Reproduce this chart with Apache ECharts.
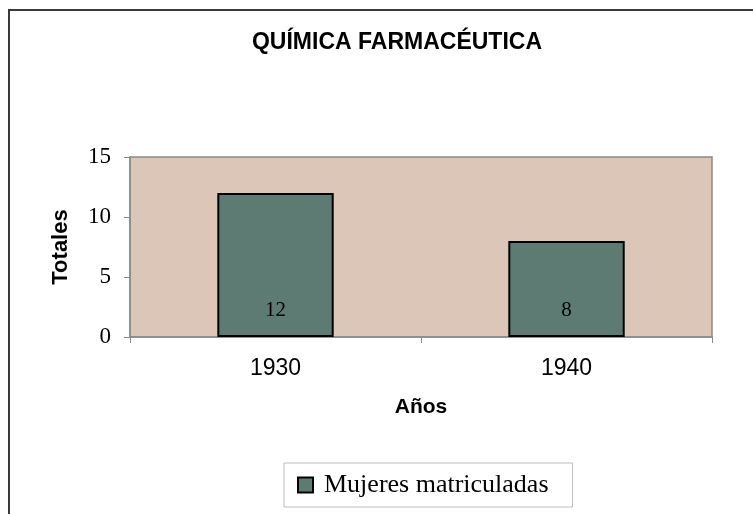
<!DOCTYPE html>
<html>
<head>
<meta charset="utf-8">
<script src="https://cdn.jsdelivr.net/npm/echarts@6/dist/echarts.min.js"></script>
<style>
  html, body { margin: 0; padding: 0; background: #fff; }
  #frame { position: absolute; left: 8px; top: 9px; width: 760px; height: 520px;
           border-left: 2px solid #3a3a3a; border-top: 2px solid #3a3a3a; }
  #chart { position: absolute; left: 0; top: 0; width: 753px; height: 514px; }
</style>
</head>
<body>
<div id="frame"></div>
<div id="chart"></div>
<script>
// datos del gráfico
const years = ['1930', '1940'];
const mujeres = [12, 8];
const yTicks = [0, 5, 10, 15];

const chart = echarts.init(document.getElementById('chart'));
chart.setOption({
    animation: false,
    title: {
        text: 'QUÍMICA FARMACÉUTICA',
        left: 392,
        top: 26,
        textAlign: 'center',
        textStyle: {fontFamily: 'Liberation Sans, Arial', fontWeight: 'bold', fontSize: 23, color: '#000'}
    },
    grid: {
        left: 130, right: 41, top: 157, bottom: 177,
        show: true,
        backgroundColor: '#dcc6b8',
        borderColor: '#8a8a8a',
        borderWidth: 1.5
    },
    legend: {
        data: ['Mujeres matriculadas'],
        left: 284,
        top: 463,
        padding: [9, 24, 9, 13],
        borderColor: '#bdbdbd',
        borderWidth: 1,
        itemWidth: 15,
        itemHeight: 15,
        icon: 'rect',
        textStyle: {fontFamily: 'Liberation Serif, Times New Roman', fontSize: 26, color: '#000', padding: [0, 0, 0, 6]}
    },
    xAxis: {
        type: 'category',
        data: years,
        name: 'Años',
        nameLocation: 'middle',
        nameGap: 60,
        nameTextStyle: {fontFamily: 'Liberation Sans, Arial', fontWeight: 'bold', fontSize: 21, color: '#000'},
        axisLine: {lineStyle: {color: '#8a8a8a', width: 1.5}},
        axisTick: {show: true, alignWithLabel: false, length: 6, lineStyle: {color: '#8a8a8a'}},
        axisLabel: {margin: 20, fontFamily: 'Liberation Sans, Arial', fontSize: 23, color: '#000'}
    },
    yAxis: {
        type: 'value',
        min: yTicks[0],
        max: yTicks[yTicks.length - 1],
        interval: 5,
        name: 'Totales',
        nameLocation: 'middle',
        nameGap: 58,
        nameTextStyle: {fontFamily: 'Liberation Sans, Arial', fontWeight: 'bold', fontSize: 22, color: '#000'},
        axisLine: {show: true, lineStyle: {color: '#8a8a8a', width: 1.5}},
        axisTick: {show: true, length: 6, lineStyle: {color: '#8a8a8a'}},
        splitLine: {show: false},
        axisLabel: {margin: 19, fontFamily: 'Liberation Serif, Times New Roman', fontSize: 23, color: '#000'}
    },
    series: [{
        name: 'Mujeres matriculadas',
        type: 'bar',
        data: mujeres,
        barWidth: '40%',
        itemStyle: {color: '#5e7b73', borderColor: '#000', borderWidth: 2},
        label: {
            show: true,
            position: 'insideBottom',
            distance: 16,
            fontFamily: 'Liberation Serif, Times New Roman',
            fontSize: 21,
            color: '#000'
        }
    }]
});
</script>
</body>
</html>
